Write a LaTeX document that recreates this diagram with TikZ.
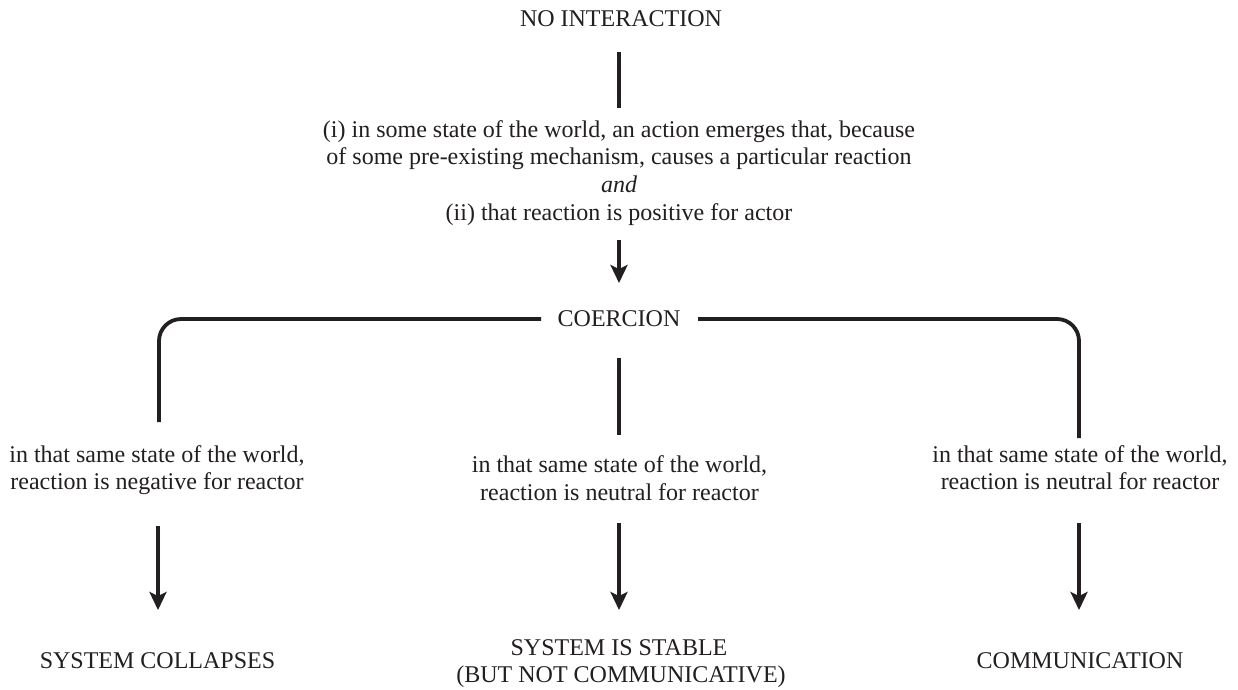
\documentclass[tikz,border=0pt]{standalone}
\usepackage{fontspec}
\setmainfont{Liberation Serif}
\usetikzlibrary{arrows.meta}
\definecolor{ink}{HTML}{231F20}
\begin{document}
\begin{tikzpicture}[x=1pt,y=-1pt,
  lbl/.style={anchor=base,inner sep=0pt,text=ink,font=\fontsize{24}{27.5}\selectfont},
  conn/.style={draw=ink,line width=3.8pt},
  arr/.style={conn,-{Stealth[length=18pt,width=17pt,inset=4pt]}}]
\useasboundingbox[fill=white] (0,0) rectangle (1238,689);

% texts
\node[lbl] (noint) at (621,26) {NO INTERACTION};
\node[lbl] (c1) at (619,137) {(i) in some state of the world, an action emerges that, because};
\node[lbl] (c2) at (619,164.5) {of some pre-existing mechanism, causes a particular reaction};
\node[lbl] (c3) at (619,192) {\itshape and};
\node[lbl] (c4) at (619,220) {(ii) that reaction is positive for actor};
\node[lbl] (coerc) at (619,326) {COERCION};
\node[lbl] (l1) at (157,462) {in that same state of the world,};
\node[lbl] (l2) at (157,489) {reaction is negative for reactor};
\node[lbl] (m1) at (619.5,472) {in that same state of the world,};
\node[lbl] (m2) at (619.5,500) {reaction is neutral for reactor};
\node[lbl] (r1) at (1080,462) {in that same state of the world,};
\node[lbl] (r2) at (1080,489) {reaction is neutral for reactor};
\node[lbl] (o1) at (157.5,668) {SYSTEM COLLAPSES};
\node[lbl] (o2a) at (619,655) {SYSTEM IS STABLE};
\node[lbl] (o2b) at (621,682) {(BUT NOT COMMUNICATIVE)};
\node[lbl] (o3) at (1080,668) {COMMUNICATION};

% connector end points
\coordinate (t1) at (619,52);
\coordinate (t2) at (619,108);
\coordinate (a1) at (619,240);
\coordinate (a2) at (619,283);
\coordinate (bl) at (541,319);
\coordinate (blc) at (159,319);
\coordinate (ble) at (159,422);
\coordinate (br) at (698,319);
\coordinate (brc) at (1079,319);
\coordinate (bre) at (1079,438);
\coordinate (ms) at (619,358);
\coordinate (me) at (619,435);
\coordinate (la) at (158,526);
\coordinate (lt) at (158,610);
\coordinate (maa) at (619,523);
\coordinate (mt) at (619,610);
\coordinate (ra) at (1079,523);
\coordinate (rt) at (1079,610);

% connectors
\draw[conn] (t1) -- (t2);
\draw[arr] (a1) -- (a2);
\draw[conn,rounded corners=22pt] (bl) -- (blc) -- (ble);
\draw[conn,rounded corners=22pt] (br) -- (brc) -- (bre);
\draw[conn] (ms) -- (me);
\draw[arr] (la) -- (lt);
\draw[arr] (maa) -- (mt);
\draw[arr] (ra) -- (rt);
\end{tikzpicture}
\end{document}
